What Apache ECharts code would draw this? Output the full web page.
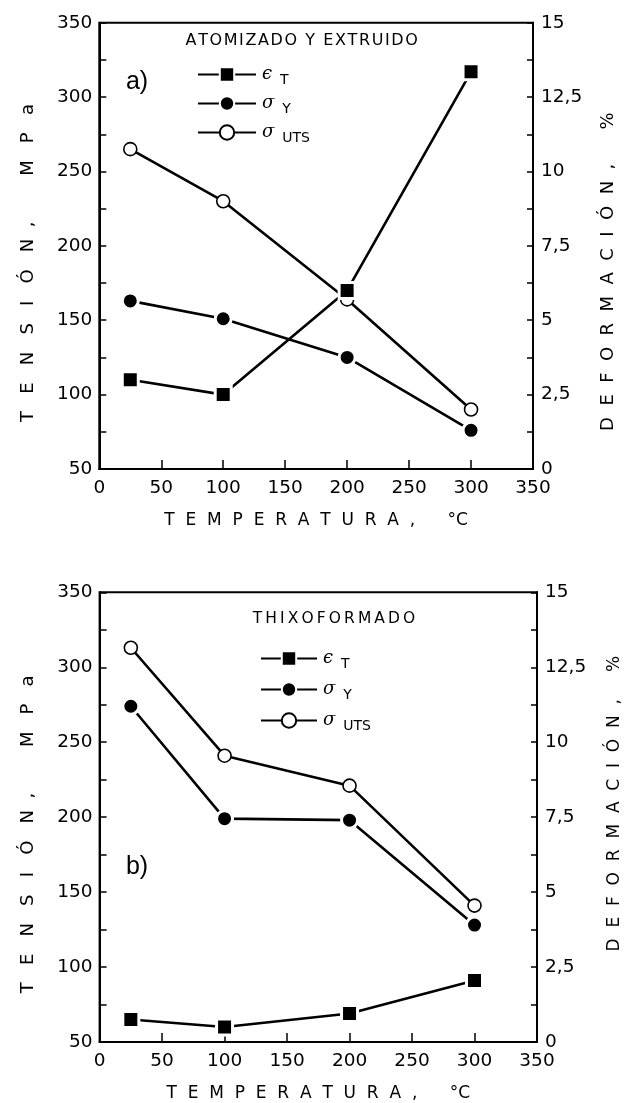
<!DOCTYPE html>
<html>
<head>
<meta charset="utf-8">
<script src="https://cdn.jsdelivr.net/npm/echarts@6/dist/echarts.min.js"></script>
<style>
html,body{margin:0;padding:0;background:#fff;}
#chart{width:631px;height:1103px;}
</style>
</head>
<body>
<div id="chart"></div>
<script>
// temperaturas de ensayo, °C
var temps = [25, 100, 200, 300];
// a) atomizado y extruido
var defA = [3.0, 2.5, 6.0, 13.35];   // %
var yieldA = [163, 151, 125, 76];    // MPa
var utsA = [265, 230, 164, 90];      // MPa
// b) thixoformado
var defB = [0.75, 0.5, 0.95, 2.05];
var yieldB = [274, 199, 198, 128];
var utsB = [313, 241, 221, 141];

var xTicks = [0, 50, 100, 150, 200, 250, 300, 350];

var FONT = 'DejaVu Sans';
var chart = echarts.init(document.getElementById('chart'));

function pairs(vals){
	return temps.map(function(t, i){ return [t, vals[i]]; });
}

/********** estilos de serie **********/
function lineSerie(name, data, xi, yi, kind){
	var s = {
		name: name,
		type: 'line',
		xAxisIndex: xi,
		yAxisIndex: yi,
		data: pairs(data),
		lineStyle: {color: '#000', width: 2.6},
		emphasis: {disabled: true},
		animation: false
	};
	if(kind == 'sq'){
		s.symbol = 'rect';
		s.symbolSize = 16;
		s.itemStyle = {color: '#000', borderColor: '#fff', borderWidth: 3};
	}else if(kind == 'dot'){
		s.symbol = 'circle';
		s.symbolSize = 16;
		s.itemStyle = {color: '#000', borderColor: '#fff', borderWidth: 3};
	}else{
		s.symbol = 'circle';
		s.symbolSize = 13;
		s.itemStyle = {color: '#fff', borderColor: '#000', borderWidth: 1.6};
	}
	return s;
}

var legendText = {
	'εT': '{g|ϵ}{s|T}',
	'σY': '{g|σ}{s|Y}',
	'σUTS': '{g|σ}{s|UTS}'
};
function legendCfg(left, top, w, gap){
	return {
		left: left, top: top, orient: 'vertical',
		itemWidth: w, itemHeight: 18, itemGap: gap,
		selectedMode: false,
		data: ['εT', 'σY', 'σUTS'],
		formatter: function(n){ return legendText[n]; },
		textStyle: {
			color: '#000',
			rich: {
				g: {fontFamily: 'DejaVu Serif', fontStyle: 'italic', fontSize: 18, color: '#000', padding: [0, 0, 0, 1], lineHeight: 22},
				s: {fontFamily: FONT, fontSize: 14, color: '#000', padding: [11, 0, 0, 8], lineHeight: 22}
			}
		}
	};
}

function xAxisCfg(gi){
	return {
		type: 'value', gridIndex: gi, min: 0, max: 350, interval: 50,
		axisLine: {lineStyle: {color: '#000', width: 2}},
		axisTick: {inside: true, length: 9, lineStyle: {color: '#000', width: 1.5}},
		axisLabel: {color: '#000', fontFamily: FONT, fontSize: 18.5, margin: 10,
			formatter: function(v){ return xTicks.indexOf(v) >= 0 ? String(v) : ''; }},
		splitLine: {show: false},
		name: 'T  E  M  P  E  R  A  T  U  R  A  ,      °C',
		nameLocation: 'middle', nameGap: 43,
		nameTextStyle: {color: '#000', fontFamily: FONT, fontSize: 17}
	};
}
function leftAxisCfg(gi){
	return {
		type: 'value', gridIndex: gi, position: 'left', min: 50, max: 350, interval: 25,
		axisLine: {show: true, lineStyle: {color: '#000', width: 2}},
		axisTick: {inside: true, length: 7, lineStyle: {color: '#000', width: 1.5}},
		axisLabel: {color: '#000', fontFamily: FONT, fontSize: 18.5, margin: 7,
			formatter: function(v){ return v % 50 == 0 ? String(v) : ''; }},
		splitLine: {show: false},
		name: 'T   E   N   S   I   Ó   N  ,        M   P   a      ',
		nameLocation: 'middle', nameGap: 62,
		nameTextStyle: {color: '#000', fontFamily: FONT, fontSize: 18}
	};
}
function rightAxisCfg(gi, name, gap, size){
	return {
		type: 'value', gridIndex: gi, position: 'right', min: 0, max: 15, interval: 1.25,
		axisLine: {show: true, lineStyle: {color: '#000', width: 2}},
		axisTick: {inside: true, length: 6, lineStyle: {color: '#000', width: 1.5}},
		axisLabel: {color: '#000', fontFamily: FONT, fontSize: 18.5, margin: 8,
			formatter: function(v){ return v % 2.5 == 0 ? String(v).replace('.', ',') : ''; }},
		splitLine: {show: false},
		name: name,
		nameLocation: 'middle', nameGap: gap,
		nameTextStyle: {color: '#000', fontFamily: FONT, fontSize: size}
	};
}

var option = {
	backgroundColor: '#fff',
	animation: false,
	grid: [
		{left: 99.3, right: 98, top: 22.7, height: 446.3, show: true, borderColor: '#000', borderWidth: 2},
		{left: 99.6, right: 93, top: 592.3, height: 452.7, show: true, borderColor: '#000', borderWidth: 2}
	],
	xAxis: [xAxisCfg(0), xAxisCfg(1)],
	yAxis: [
		leftAxisCfg(0),
		rightAxisCfg(0, 'D  E  F  O  R  M  A  C  I  Ó  N  ,      %         ', 66, 18),
		leftAxisCfg(1),
		rightAxisCfg(1, '     D  E  F  O  R  M  A  C  I  Ó  N  ,     %', 69, 17)
	],
	legend: [legendCfg(192, 57, 58, 4), legendCfg(255, 641, 56, 6)],
	graphic: [
		{type: 'text', x: 301.7, y: 41, style: {text: 'A\u200AT\u200AO\u200AM\u200AI\u200AZ\u200AA\u200AD\u200AO\u200A \u200AY\u200A \u200AE\u200AX\u200AT\u200AR\u200AU\u200AI\u200AD\u200AO', fill: '#000', font: '16px "DejaVu Sans"', textAlign: 'center', textVerticalAlign: 'middle'}},
		{type: 'text', x: 334, y: 619, style: {text: 'T\u2009H\u2009I\u2009X\u2009O\u2009F\u2009O\u2009R\u2009M\u2009A\u2009D\u2009O', fill: '#000', font: '15.5px "DejaVu Sans"', textAlign: 'center', textVerticalAlign: 'middle'}},
		{type: 'text', x: 137, y: 82, style: {text: 'a)', fill: '#000', font: '25px "Liberation Sans"', textAlign: 'center', textVerticalAlign: 'middle'}},
		{type: 'text', x: 137, y: 867, style: {text: 'b)', fill: '#000', font: '25px "Liberation Sans"', textAlign: 'center', textVerticalAlign: 'middle'}}
	],
	series: [
		lineSerie('σUTS', utsA, 0, 0, 'open'),
		lineSerie('σY', yieldA, 0, 0, 'dot'),
		lineSerie('εT', defA, 0, 1, 'sq'),
		lineSerie('σUTS', utsB, 1, 2, 'open'),
		lineSerie('σY', yieldB, 1, 2, 'dot'),
		lineSerie('εT', defB, 1, 3, 'sq')
	]
};
chart.setOption(option);
</script>
</body>
</html>
